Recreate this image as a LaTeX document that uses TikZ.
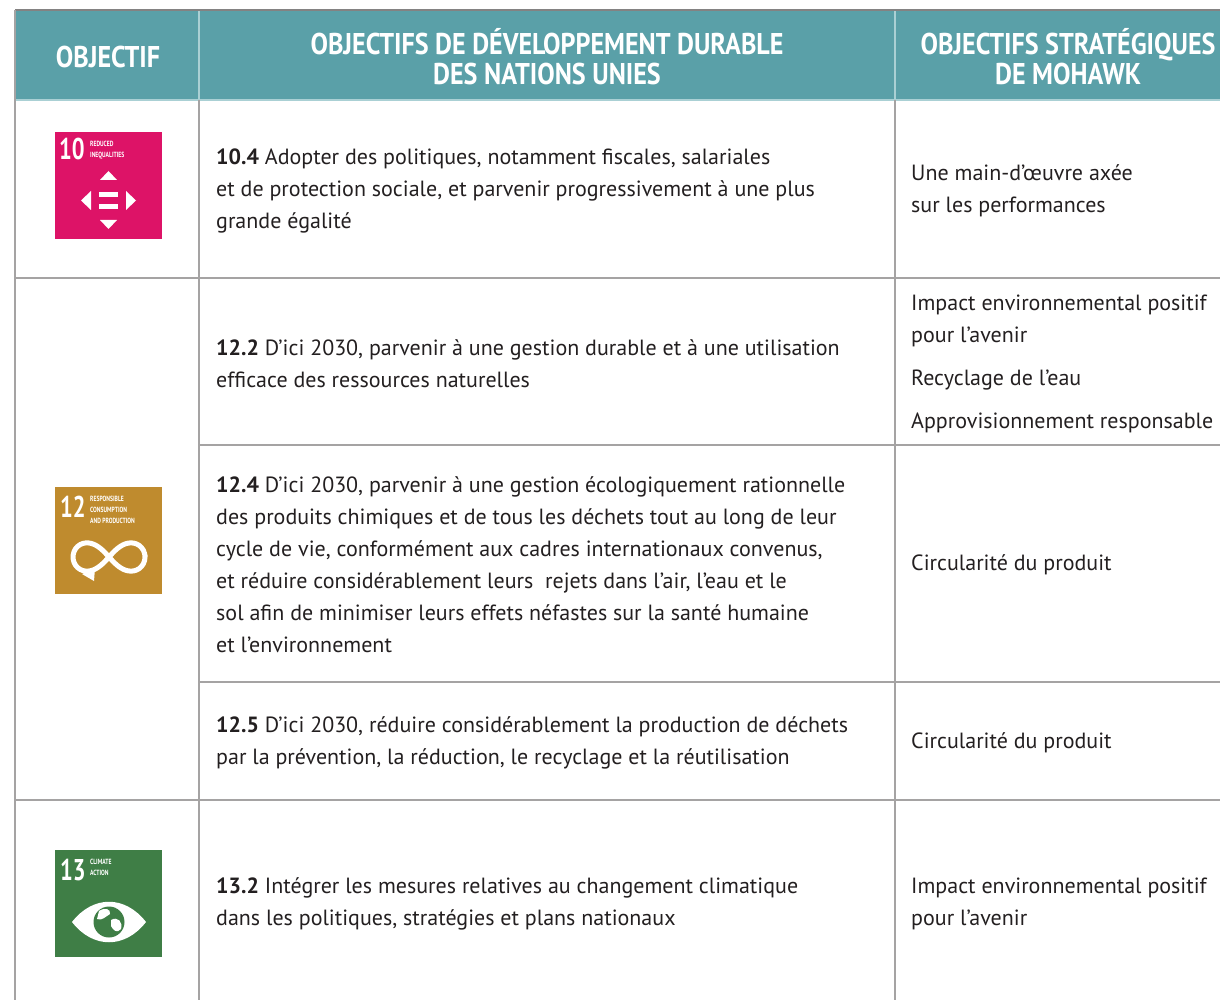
\documentclass[tikz,border=0pt]{standalone}
\usepackage{fontspec}
\setmainfont{PT Sans}
\newfontfamily\headfont[FakeStretch=0.87]{PT Sans}
\newfontfamily\iconfont[FakeStretch=0.75]{PT Sans}
\usepackage{tikz}
\usetikzlibrary{positioning}

\definecolor{headteal}{RGB}{90,160,168}
\definecolor{headline}{RGB}{170,208,212}
\definecolor{gridgray}{RGB}{165,163,163}
\definecolor{textgray}{RGB}{35,31,32}
\definecolor{sdgten}{RGB}{221,19,103}
\definecolor{sdgtwelve}{RGB}{191,139,46}
\definecolor{sdgthirteen}{RGB}{63,126,70}

\tikzset{
	headtext/.style={text=white,align=center,font=\headfont\bfseries\fontsize{30}{30}\selectfont},
	bodytext/.style={anchor=west,align=left,text=textgray,inner sep=0pt,font=\fontsize{22}{32}\selectfont},
	gridline/.style={draw=gridgray,line width=1.4pt},
	sdgicon/.style={minimum size=107pt,inner sep=0pt,outer sep=0pt},
	iconnum/.style={anchor=north west,inner sep=0pt,text=white,font=\iconfont\bfseries\fontsize{30}{30}\selectfont},
	icontext/.style={anchor=north west,inner sep=0pt,align=left,text=white,font=\iconfont\bfseries\fontsize{7.5}{11}\selectfont}
}

\begin{document}
\begin{tikzpicture}[x=1pt,y=-1pt]
		\useasboundingbox (0,0) rectangle (1223,1000);

		% header band
		\fill[headteal] (15,10) rectangle (1220,100);
		\draw[headline,line width=1.4pt] (15,100) -- (1220,100);
		\draw[headline,line width=1.4pt] (199,10) -- (199,100);
		\draw[headline,line width=1.4pt] (895,10) -- (895,100);
		\draw[gridgray!80!black,line width=1.6pt] (15,10) -- (1220,10);

		\node[headtext] (headgoal) at (108,57) {OBJECTIF};
		\node[headtext] (headsdg) at (547,57) {OBJECTIFS DE DÉVELOPPEMENT DURABLE\\DES NATIONS UNIES};
		\node[headtext] (headmohawk) at (1068,57) {OBJECTIFS STRATÉGIQUES\\DE MOHAWK};

		% grid
		\draw[gridline] (15,10) -- (15,1000);
		\draw[gridline] (199,100) -- (199,1000);
		\draw[gridline] (895,100) -- (895,1000);
		\draw[gridline] (15,278) -- (1220,278);
		\draw[gridline] (199,445) -- (1220,445);
		\draw[gridline] (199,682) -- (1220,682);
		\draw[gridline] (15,800) -- (1220,800);

		% SDG 10
		\node[sdgicon,fill=sdgten] (icon10) at (108.5,185.5) {};
		\begin{scope}[shift={(icon10.north west)}]
			\node[iconnum] (num10) at (4,6) {10};
			\node[icontext] (txt10) at (35,9) {REDUCED\\INEQUALITIES};
			\fill[white] (45,48) -- (62,48) -- (53.5,39) -- cycle;
			\fill[white] (45,88) -- (62,88) -- (53.5,97) -- cycle;
			\fill[white] (36,59) -- (36,78) -- (26,68.5) -- cycle;
			\fill[white] (71,59) -- (71,78) -- (81,68.5) -- cycle;
			\fill[white] (44,60) rectangle (63,65);
			\fill[white] (44,72) rectangle (63,77);
		\end{scope}

		% SDG 12
		\node[sdgicon,fill=sdgtwelve] (icon12) at (108.5,540.5) {};
		\begin{scope}[shift={(icon12.north west)}]
			\node[iconnum] (num12) at (5,9) {12};
			\node[icontext] (txt12) at (35,9) {RESPONSIBLE\\CONSUMPTION\\AND PRODUCTION};
			\draw[white,line width=5pt] plot[domain=0:360,smooth cycle,samples=72]
				({54+36*cos(\x)/(1+sin(\x)^2)},{70+40*sin(\x)*cos(\x)/(1+sin(\x)^2)});
			\fill[white] (27,87) -- (40,81) -- (39,94) -- cycle;
		\end{scope}

		% SDG 13
		\node[sdgicon,fill=sdgthirteen] (icon13) at (108.5,903.5) {};
		\begin{scope}[shift={(icon13.north west)}]
			\node[iconnum] (num13) at (5,9) {13};
			\node[icontext] (txt13) at (35,9) {CLIMATE\\ACTION};
			\fill[white] (17,72) .. controls (38,45) and (70,45) .. (91,72)
				.. controls (70,99) and (38,99) .. (17,72) -- cycle;
			\fill[sdgthirteen] (54,72) circle (15.5);
			\fill[white] (44,61) .. controls (50,57) and (56,59) .. (55,64)
				.. controls (50,67) and (47,71) .. (42,69) -- cycle;
			\fill[white] (56,70) .. controls (63,66) and (68,72) .. (66,79)
				.. controls (62,84) and (58,80) .. (56,76) -- cycle;
		\end{scope}

		% UN SDG targets
		\node[bodytext] (t104) at (216,191) {\textbf{10.4} Adopter des politiques, notamment fiscales, salariales\\et de protection sociale, et parvenir progressivement à une plus\\grande égalité};
		\node[bodytext] (t122) at (216,364) {\textbf{12.2} D'ici 2030, parvenir à une gestion durable et à une utilisation\\efficace des ressources naturelles};
		\node[bodytext] (t124) at (216,565) {\textbf{12.4} D'ici 2030, parvenir à une gestion écologiquement rationnelle\\des produits chimiques et de tous les déchets tout au long de leur\\cycle de vie, conformément aux cadres internationaux convenus,\\et réduire considérablement leurs\ \ rejets dans l'air, l'eau et le\\sol afin de minimiser leurs effets néfastes sur la santé humaine\\et l'environnement};
		\node[bodytext] (t125) at (216,743) {\textbf{12.5} D'ici 2030, réduire considérablement la production de déchets\\par la prévention, la réduction, le recyclage et la réutilisation};
		\node[bodytext] (t132) at (216,904) {\textbf{13.2} Intégrer les mesures relatives au changement climatique\\dans les politiques, stratégies et plans nationaux};

		% Mohawk goals
		\node[bodytext] (m104) at (911,191) {Une main-d'œuvre axée\\sur les performances};
		\node[bodytext] (m122) at (911,364) {Impact environnemental positif\\pour l'avenir\\[11pt]Recyclage de l'eau\\[11pt]Approvisionnement responsable};
		\node[bodytext] (m124) at (911,565) {Circularité du produit};
		\node[bodytext] (m125) at (911,743) {Circularité du produit};
		\node[bodytext] (m132) at (911,904) {Impact environnemental positif\\pour l'avenir};

	\end{tikzpicture}
\end{document}
